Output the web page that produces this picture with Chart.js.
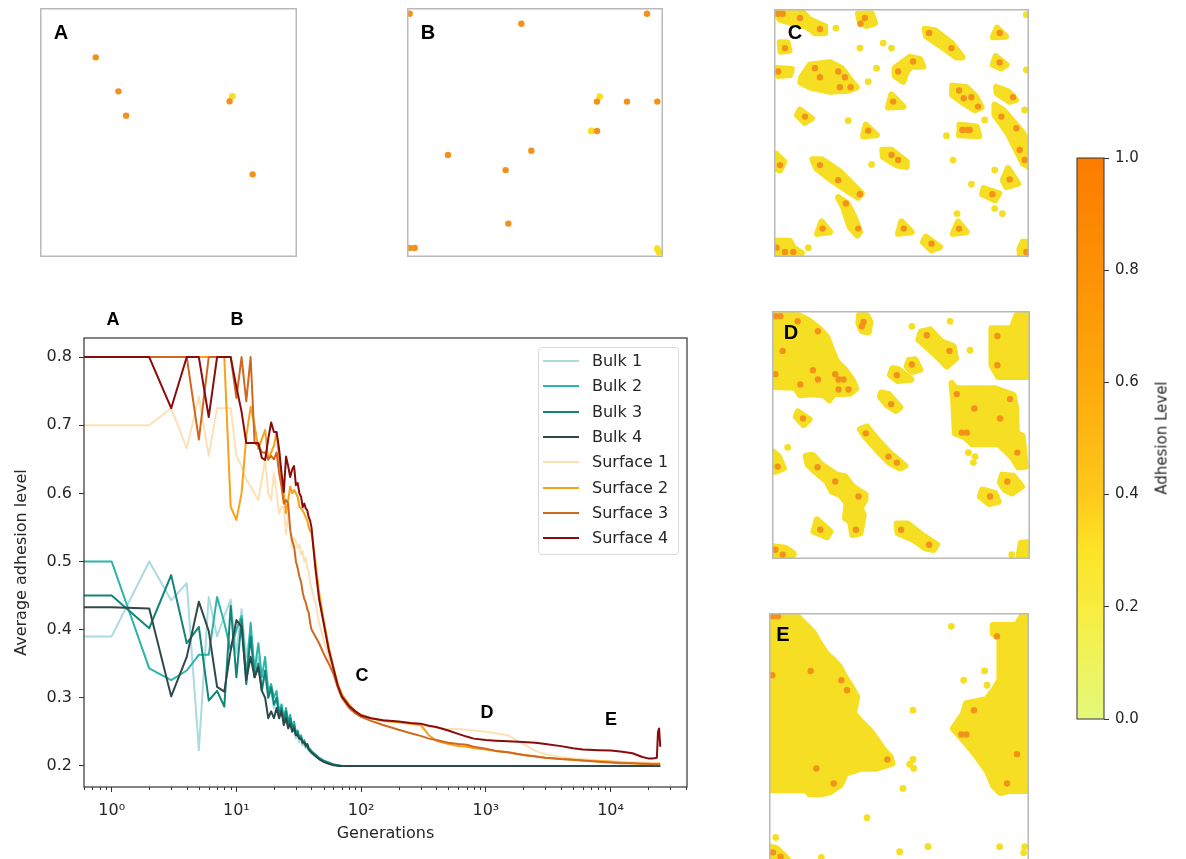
<!DOCTYPE html>
<html>
<head>
<meta charset="utf-8">
<style>
  body { margin: 0; width: 1186px; height: 859px; overflow: hidden; background: #fff; position: relative; font-family: 'DejaVu Sans', sans-serif; }
  canvas, .tag, .lbl, #legend { position: absolute; }
  .tag { font-family: 'Liberation Sans', Arial, sans-serif; font-weight: bold; color: #000; line-height: 1; transform: translate(-50%, -50%); }
  .lbl { color: #262626; line-height: 1; white-space: nowrap; }
</style>
</head>
<body>
<canvas id="panelA" width="257" height="249" style="left:40px;top:8px"></canvas>
<canvas id="panelB" width="256" height="249" style="left:407px;top:8px"></canvas>
<canvas id="panelC" width="255" height="248" style="left:774px;top:9px"></canvas>
<canvas id="panelD" width="258" height="248" style="left:772px;top:311px"></canvas>
<canvas id="panelE" width="260" height="260" style="left:769px;top:613px"></canvas>
<canvas id="cbar" width="116" height="600" style="left:1070px;top:140px"></canvas>
<canvas id="main" width="700" height="559" style="left:0;top:300px"></canvas>
<div id="legend" style="left:538px;top:347px;width:139px;height:206px;border:1px solid #d9d9d9;border-radius:4px;background:rgba(255,255,255,0.8)"></div>

<div class="tag" style="left:61px;top:32px;font-size:20px">A</div>
<div class="tag" style="left:428px;top:32px;font-size:20px">B</div>
<div class="tag" style="left:795px;top:32px;font-size:20px">C</div>
<div class="tag" style="left:791px;top:332px;font-size:20px">D</div>
<div class="tag" style="left:783px;top:634px;font-size:20px">E</div>

<div class="tag" style="left:113px;top:319px;font-size:18px">A</div>
<div class="tag" style="left:237px;top:319px;font-size:18px">B</div>
<div class="tag" style="left:362px;top:675px;font-size:18px">C</div>
<div class="tag" style="left:487px;top:712px;font-size:18px">D</div>
<div class="tag" style="left:611px;top:719px;font-size:18px">E</div>

<div class="lbl" style="left:1162px;top:438px;font-size:15px;transform:translate(-50%,-50%) rotate(-90deg)">Adhesion Level</div>

<script src="https://cdn.jsdelivr.net/npm/chart.js"></script>
<script>
// ---- main chart data: generation and average adhesion level per run ----
// first entry stands in for generation 0 (drawn at the left edge of the log axis)
const gens = [
  0.6,
  1, 2, 3, 4, 5, 6, 7, 8, 9, 10,
  11, 12, 13, 14, 15, 16, 17, 18, 19, 20,
  21, 22, 23, 24, 25, 26, 27, 28, 29, 30,
  31, 32, 33, 34, 35, 36, 37, 38, 39, 40,
  43, 46, 50, 55, 60, 65, 70, 80, 90, 100,
  120, 150, 200, 250, 300, 350, 400, 500, 600, 700,
  800, 1000, 1200, 1500, 2000, 2500, 3000, 4000, 5000, 6000,
  8000, 10000, 12000, 15000, 18000, 20000, 22000, 23500, 24000, 24500,
  25000
];
const bulk1 = [
  0.39,
  0.39, 0.50, 0.443, 0.468, 0.223, 0.448, 0.39, 0.42, 0.444, 0.365,
  0.43, 0.36, 0.40, 0.33, 0.36, 0.32, 0.33, 0.30, 0.31, 0.285,
  0.30, 0.27, 0.29, 0.26, 0.275, 0.258, 0.27, 0.25, 0.255, 0.24,
  0.245, 0.235, 0.24, 0.23, 0.232, 0.226, 0.228, 0.222, 0.22, 0.218,
  0.214, 0.21, 0.207, 0.204, 0.202, 0.201, 0.2, 0.2, 0.2, 0.2,
  0.2, 0.2, 0.2, 0.2, 0.2, 0.2, 0.2, 0.2, 0.2, 0.2,
  0.2, 0.2, 0.2, 0.2, 0.2, 0.2, 0.2, 0.2, 0.2, 0.2,
  0.2, 0.2, 0.2, 0.2, 0.2, 0.2, 0.2, 0.2, 0.2, 0.2,
  0.2
];
const bulk2 = [
  0.50,
  0.50, 0.343, 0.326, 0.34, 0.363, 0.363, 0.448, 0.41, 0.37, 0.40,
  0.42, 0.33, 0.41, 0.34, 0.38, 0.33, 0.36, 0.31, 0.32, 0.30,
  0.31, 0.28, 0.29, 0.27, 0.285, 0.265, 0.275, 0.258, 0.265, 0.25,
  0.252, 0.24, 0.245, 0.235, 0.238, 0.23, 0.232, 0.226, 0.225, 0.222,
  0.217, 0.212, 0.208, 0.205, 0.202, 0.201, 0.2, 0.2, 0.2, 0.2,
  0.2, 0.2, 0.2, 0.2, 0.2, 0.2, 0.2, 0.2, 0.2, 0.2,
  0.2, 0.2, 0.2, 0.2, 0.2, 0.2, 0.2, 0.2, 0.2, 0.2,
  0.2, 0.2, 0.2, 0.2, 0.2, 0.2, 0.2, 0.2, 0.2, 0.2,
  0.2
];
const bulk3 = [
  0.45,
  0.45, 0.402, 0.48, 0.38, 0.404, 0.296, 0.31, 0.287, 0.435, 0.33,
  0.415, 0.32, 0.39, 0.33, 0.35, 0.31, 0.34, 0.30, 0.315, 0.29,
  0.30, 0.275, 0.285, 0.265, 0.28, 0.26, 0.27, 0.255, 0.26, 0.245,
  0.25, 0.24, 0.242, 0.233, 0.235, 0.228, 0.23, 0.224, 0.222, 0.22,
  0.215, 0.211, 0.207, 0.204, 0.202, 0.201, 0.2, 0.2, 0.2, 0.2,
  0.2, 0.2, 0.2, 0.2, 0.2, 0.2, 0.2, 0.2, 0.2, 0.2,
  0.2, 0.2, 0.2, 0.2, 0.2, 0.2, 0.2, 0.2, 0.2, 0.2,
  0.2, 0.2, 0.2, 0.2, 0.2, 0.2, 0.2, 0.2, 0.2, 0.2,
  0.2
];
const bulk4 = [
  0.433,
  0.433, 0.431, 0.302, 0.36, 0.441, 0.398, 0.316, 0.309, 0.37, 0.414,
  0.404, 0.326, 0.36, 0.33, 0.345, 0.31, 0.30, 0.27, 0.28, 0.27,
  0.285, 0.27, 0.28, 0.26, 0.27, 0.255, 0.262, 0.25, 0.255, 0.245,
  0.245, 0.24, 0.24, 0.235, 0.235, 0.23, 0.232, 0.225, 0.222, 0.22,
  0.215, 0.21, 0.206, 0.203, 0.201, 0.2, 0.2, 0.2, 0.2, 0.2,
  0.2, 0.2, 0.2, 0.2, 0.2, 0.2, 0.2, 0.2, 0.2, 0.2,
  0.2, 0.2, 0.2, 0.2, 0.2, 0.2, 0.2, 0.2, 0.2, 0.2,
  0.2, 0.2, 0.2, 0.2, 0.2, 0.2, 0.2, 0.2, 0.2, 0.2,
  0.2
];
const surface1 = [
  0.70,
  0.70, 0.70, 0.725, 0.666, 0.742, 0.655, 0.725, 0.725, 0.725, 0.655,
  0.64, 0.62, 0.61, 0.60, 0.59, 0.62, 0.649, 0.60, 0.59, 0.63,
  0.60, 0.57, 0.58, 0.58, 0.54, 0.57, 0.55, 0.52, 0.535, 0.53,
  0.52, 0.525, 0.51, 0.515, 0.50, 0.505, 0.49, 0.485, 0.47, 0.46,
  0.44, 0.41, 0.385, 0.36, 0.34, 0.32, 0.305, 0.29, 0.28, 0.275,
  0.27, 0.267, 0.264, 0.262, 0.26, 0.258, 0.256, 0.254, 0.254, 0.253,
  0.252, 0.25, 0.248, 0.245, 0.232, 0.222, 0.217, 0.213, 0.211, 0.21,
  0.208, 0.207, 0.206, 0.205, 0.205, 0.204, 0.204, 0.204, 0.204, 0.204,
  0.204
];
const surface2 = [
  0.80,
  0.80, 0.80, 0.80, 0.80, 0.80, 0.80, 0.80, 0.80, 0.58, 0.561,
  0.60, 0.683, 0.727, 0.70, 0.665, 0.68, 0.693, 0.649, 0.66, 0.67,
  0.69, 0.65, 0.62, 0.60, 0.571, 0.59, 0.61, 0.60, 0.605, 0.60,
  0.595, 0.58, 0.578, 0.575, 0.57, 0.565, 0.56, 0.55, 0.545, 0.542,
  0.50, 0.455, 0.415, 0.375, 0.345, 0.32, 0.305, 0.29, 0.28, 0.275,
  0.27, 0.266, 0.264, 0.262, 0.26, 0.245, 0.237, 0.232, 0.229, 0.228,
  0.226, 0.224, 0.222, 0.22, 0.216, 0.214, 0.212, 0.21, 0.209, 0.208,
  0.207, 0.206, 0.205, 0.204, 0.203, 0.203, 0.203, 0.203, 0.203, 0.203,
  0.203
];
const surface3 = [
  0.80,
  0.80, 0.80, 0.80, 0.80, 0.679, 0.80, 0.80, 0.80, 0.80, 0.74,
  0.80, 0.735, 0.80, 0.674, 0.67, 0.66, 0.66, 0.65, 0.655, 0.65,
  0.66, 0.63, 0.61, 0.585, 0.59, 0.585, 0.546, 0.53, 0.522, 0.50,
  0.49, 0.478, 0.47, 0.455, 0.445, 0.44, 0.43, 0.425, 0.41, 0.40,
  0.39, 0.38, 0.365, 0.35, 0.335, 0.315, 0.30, 0.285, 0.277, 0.272,
  0.266, 0.26, 0.253, 0.248, 0.244, 0.24, 0.238, 0.234, 0.232, 0.231,
  0.228, 0.225, 0.222, 0.22, 0.216, 0.2136, 0.212, 0.21, 0.209, 0.208,
  0.206, 0.205, 0.204, 0.204, 0.203, 0.203, 0.2025, 0.2025, 0.2025, 0.2025,
  0.2025
];
const surface4 = [
  0.80,
  0.80, 0.80, 0.725, 0.80, 0.80, 0.712, 0.80, 0.80, 0.80, 0.756,
  0.72, 0.674, 0.674, 0.674, 0.674, 0.652, 0.649, 0.68, 0.704, 0.69,
  0.69, 0.665, 0.63, 0.602, 0.654, 0.64, 0.624, 0.635, 0.64, 0.612,
  0.615, 0.60, 0.595, 0.58, 0.585, 0.578, 0.575, 0.565, 0.56, 0.55,
  0.49, 0.445, 0.41, 0.37, 0.343, 0.318, 0.302, 0.288, 0.28, 0.274,
  0.27, 0.267, 0.265, 0.263, 0.262, 0.259, 0.257, 0.252, 0.247, 0.243,
  0.24, 0.238, 0.237, 0.236, 0.235, 0.234, 0.232, 0.229, 0.226, 0.224,
  0.223, 0.2225, 0.221, 0.2186, 0.213, 0.211, 0.211, 0.212, 0.25, 0.255,
  0.228
];

const seriesNames = ['Bulk 1', 'Bulk 2', 'Bulk 3', 'Bulk 4', 'Surface 1', 'Surface 2', 'Surface 3', 'Surface 4'];
const seriesValues = [bulk1, bulk2, bulk3, bulk4, surface1, surface2, surface3, surface4];
const seriesColors = ['#a9dbe0', '#2cb3aa', '#128579', '#2f4949', '#fde1b6', '#f8a11a', '#d0691f', '#8a0b0b'];

const xTickVals = [1, 10, 100, 1000, 10000];
const yTickVals = [0.2, 0.3, 0.4, 0.5, 0.6, 0.7, 0.8];
const sup = ['\u2070', '\u00b9', '\u00b2', '\u00b3', '\u2074'];

// ---- colour bar ----
const cbarTicks = [0, 0.2, 0.4, 0.6, 0.8, 1.0];
const cbarStops = [0, 0.1, 0.2, 0.3, 0.4, 0.5, 0.6, 0.8, 1.0];
const cbarColors = ['#e3f87b', '#eef45d', '#f8ec3f', '#fde328', '#fec91b', '#fdb813', '#fda90c', '#fc9105', '#fb7c00'];

// ---- snapshot panels (positions, 1/3 px units) ----
const aOrange = [[197,173],[265,275],[288,348],[598,305],[667,524]];
const aYellow = [[606,290]];

const bOrange = [[30,42],[365,72],[742,42],[592,305],[682,305],[773,305],[592,393],[145,465],[395,452],[318,510],[326,670],[30,743],[45,743]];
const bYellow = [[600,290],[575,393],[773,745],[778,755]];

const cBlobs = [
  [[48,40],[130,40],[150,60],[195,80],[195,100],[165,100],[140,80],[100,70],[60,60]],
  [[60,128],[82,128],[88,152],[62,155]],
  [[295,42],[335,42],[345,70],[320,78],[300,65]],
  [[125,232],[150,195],[210,188],[245,205],[275,245],[290,262],[265,272],[210,275],[150,262],[122,248]],
  [[50,205],[95,208],[90,225],[55,228]],
  [[450,172],[480,178],[490,200],[455,200],[440,215],[430,245],[405,228],[405,205]],
  [[495,88],[525,92],[575,130],[608,172],[590,172],[560,150],[500,110]],
  [[712,85],[738,110],[700,112]],
  [[708,170],[740,195],[725,205],[700,195]],
  [[578,258],[620,262],[648,290],[665,322],[645,330],[605,305],[578,285]],
  [[710,262],[745,275],[768,300],[750,305],[712,280]],
  [[705,315],[730,330],[765,370],[790,400],[808,440],[808,500],[790,490],[770,450],[745,400],[720,365],[705,345]],
  [[395,285],[430,320],[385,322]],
  [[318,375],[350,405],[310,408]],
  [[120,330],[155,355],[135,368],[112,345]],
  [[600,375],[650,380],[658,408],[598,405]],
  [[368,450],[395,450],[440,485],[440,500],[410,495],[370,470]],
  [[48,462],[72,485],[60,510],[45,505]],
  [[158,478],[185,478],[240,515],[270,545],[305,580],[295,592],[260,570],[215,540],[170,505]],
  [[235,592],[262,610],[282,648],[300,695],[292,705],[270,680],[250,620]],
  [[745,505],[775,550],[740,560],[730,540]],
  [[672,565],[718,580],[705,600],[668,582]],
  [[185,665],[210,695],[172,700]],
  [[425,665],[455,695],[415,700]],
  [[595,665],[620,695],[580,700]],
  [[498,710],[540,740],[515,750],[490,725]],
  [[48,722],[90,722],[100,742],[125,758],[110,770],[48,770]],
  [[790,725],[808,725],[808,770],[782,770],[780,745]]
];
const cYellow = [[228,85],[370,130],[395,145],[300,145],[325,245],[350,205],[265,362],[675,360],[795,330],[560,407],[335,493],[580,480],[635,552],[705,510],[705,625],[728,640],[592,640],[145,742],[800,45],[800,210]];
const cOrange = [[55,42],[68,42],[120,55],[180,88],[75,145],[315,55],[302,72],[165,205],[180,232],[235,215],[255,232],[240,262],[272,262],[55,215],[460,185],[415,215],[508,100],[575,145],[720,100],[720,188],[598,272],[612,295],[635,292],[655,320],[760,292],[725,350],[770,385],[780,450],[795,480],[400,305],[325,392],[135,350],[608,390],[622,390],[630,390],[395,465],[415,480],[60,495],[180,495],[235,540],[300,582],[258,610],[295,685],[750,538],[698,582],[188,685],[432,685],[598,685],[515,730],[50,742],[75,755],[100,755],[800,755]];

const dBlobs = [
  [[22,42],[95,42],[130,60],[165,88],[185,110],[200,150],[215,185],[240,210],[262,240],[272,265],[255,280],[205,282],[192,300],[175,285],[140,282],[105,285],[90,262],[22,260]],
  [[282,45],[305,45],[315,65],[310,95],[290,92],[280,68]],
  [[468,95],[495,88],[530,125],[565,138],[572,175],[545,198],[520,172],[485,140],[460,118]],
  [[432,180],[450,178],[465,208],[440,215],[425,198]],
  [[382,205],[400,208],[438,238],[398,242],[375,225]],
  [[680,85],[740,85],[755,45],[788,45],[788,230],[700,230],[680,195]],
  [[560,250],[572,265],[690,265],[745,285],[752,320],[755,400],[772,408],[782,500],[760,502],[740,470],[700,432],[622,432],[600,412],[570,400],[565,300]],
  [[348,278],[370,282],[405,322],[392,332],[365,315],[345,290]],
  [[98,335],[132,358],[115,375],[92,350]],
  [[285,388],[305,380],[335,418],[375,460],[420,498],[405,505],[372,488],[340,455],[300,410]],
  [[22,455],[40,470],[55,505],[30,515],[22,510]],
  [[122,468],[142,465],[170,495],[215,525],[240,530],[262,560],[300,585],[300,600],[285,625],[295,645],[285,700],[262,705],[255,665],[240,655],[245,610],[225,585],[200,575],[185,545],[150,515],[128,495]],
  [[155,660],[195,695],[185,712],[145,695]],
  [[395,672],[428,672],[470,705],[515,735],[505,750],[480,745],[445,720],[398,700]],
  [[712,525],[745,528],[770,560],[740,580],[720,570],[705,548]],
  [[652,570],[690,580],[700,605],[672,612],[645,590]],
  [[22,740],[60,745],[85,762],[80,775],[22,778]],
  [[768,730],[790,728],[795,778],[760,778]]
];
const dYellow = [[440,78],[555,63],[615,150],[67,442],[610,458],[630,470],[625,488],[740,765]];
const dOrange = [[30,48],[45,48],[97,63],[158,93],[52,152],[143,210],[158,238],[210,222],[220,238],[235,238],[105,253],[220,268],[250,268],[30,222],[295,65],[290,78],[485,105],[553,152],[440,193],[395,225],[697,107],[697,195],[575,282],[628,325],[705,355],[735,297],[590,398],[605,398],[757,458],[378,312],[113,355],[302,400],[370,470],[395,488],[37,500],[157,502],[210,545],[280,590],[272,690],[165,690],[408,690],[492,735],[727,545],[675,590],[30,750],[52,765]];

const eBlobs = [
  [[30,40],[105,40],[125,60],[160,95],[180,130],[200,160],[222,180],[240,200],[256,230],[276,262],[292,290],[282,340],[300,360],[330,390],[352,420],[372,450],[392,470],[398,490],[350,505],[305,505],[258,520],[242,555],[212,575],[185,582],[150,582],[140,570],[30,570]],
  [[700,75],[770,75],[790,42],[808,42],[808,572],[745,572],[722,578],[702,558],[682,512],[652,470],[620,430],[592,398],[580,385],[610,342],[620,310],[680,298],[702,270],[720,240],[720,115],[700,100]],
  [[30,740],[50,745],[75,768],[85,780],[30,780]]
];
const eYellow = [[575,78],[675,212],[612,240],[682,255],[460,330],[460,478],[450,492],[462,505],[430,565],[322,653],[48,712],[420,755],[505,740],[720,740],[795,740],[792,758],[185,772]];
const eOrange = [[40,48],[55,48],[38,225],[153,212],[245,240],[262,270],[383,478],[170,505],[222,550],[712,108],[643,330],[605,403],[620,403],[772,462],[742,550],[40,757],[63,770]];

const FONT = "'DejaVu Sans', sans-serif";
const INK = '#262626';
const CELL_YELLOW = '#f6df22';
const CELL_ORANGE = '#f3921a';

Chart.defaults.font.family = FONT;
Chart.defaults.color = INK;

const framePlugin = {
  id: 'frame',
  afterDraw(chart, args, opts) {
    const {ctx, chartArea: a} = chart;
    const h = opts.inset ? opts.width / 2 : 0;
    ctx.save();
    ctx.strokeStyle = opts.color;
    ctx.lineWidth = opts.width;
    ctx.strokeRect(a.left + h, a.top + h, a.right - a.left - 2 * h, a.bottom - a.top - 2 * h);
    ctx.restore();
  }
};

const minorTicks = {
  id: 'minorTicks',
  afterDraw(chart) {
    const x = chart.scales.x;
    const ctx = chart.ctx;
    const b = chart.chartArea.bottom;
    ctx.save();
    ctx.strokeStyle = '#333';
    ctx.lineWidth = 1;
    for (let d = -1; d <= 4; d++) {
      for (let k = 2; k <= 9; k++) {
        const v = k * Math.pow(10, d);
        if (v < x.min || v > x.max) continue;
        const px = Math.round(x.getPixelForValue(v)) + 0.5;
        ctx.beginPath();
        ctx.moveTo(px, b);
        ctx.lineTo(px, b + 3);
        ctx.stroke();
      }
    }
    ctx.restore();
  }
};

// ---- main line chart ----
const mainDatasets = seriesNames.map((name, i) => ({
  label: name,
  data: gens.map((g, j) => ({x: g, y: seriesValues[i][j]})),
  borderColor: seriesColors[i],
  backgroundColor: seriesColors[i],
  borderWidth: 2,
  pointRadius: 0,
  tension: 0,
  borderJoinStyle: 'round',
  fill: false,
  order: seriesNames.length - 1 - i
}));

new Chart(document.getElementById('main'), {
  type: 'line',
  data: {datasets: mainDatasets},
  options: {
    responsive: false,
    animation: false,
    events: [],
    layout: {autoPadding: false, padding: {top: 38, right: 13, bottom: 0, left: 0}},
    plugins: {
      legend: {display: false},
      tooltip: {enabled: false},
      frame: {color: '#333', width: 1.2}
    },
    scales: {
      x: {
        type: 'logarithmic',
        min: 0.6,
        max: 41000,
        afterBuildTicks: s => { s.ticks = xTickVals.map(v => ({value: v})); },
        afterFit: s => { s.height = 72; },
        grid: {display: true, drawOnChartArea: false, drawTicks: true, tickLength: 5, color: '#333'},
        border: {display: false},
        ticks: {
          font: {size: 16}, color: INK, padding: 9, maxRotation: 0, autoSkip: false,
          callback: v => '10' + sup[Math.round(Math.log10(v))]
        },
        title: {display: true, text: 'Generations', font: {size: 16}, color: INK, padding: {top: 0, bottom: 16}}
      },
      y: {
        type: 'linear',
        min: 0.169,
        max: 0.828,
        afterBuildTicks: s => { s.ticks = yTickVals.map(v => ({value: v})); },
        afterFit: s => { s.width = 84; },
        grid: {display: true, drawOnChartArea: false, drawTicks: true, tickLength: 5, color: '#333'},
        border: {display: false},
        ticks: {font: {size: 16}, color: INK, padding: 7, callback: v => v.toFixed(1)},
        title: {display: true, text: 'Average adhesion level', font: {size: 16}, color: INK, padding: {top: 12, bottom: 0}}
      }
    }
  },
  plugins: [framePlugin, minorTicks]
});

// legend box inside the plot
const legend = document.getElementById('legend');
seriesNames.forEach((name, i) => {
  const cy = 13 + i * 25.3;
  const line = document.createElement('div');
  line.style.cssText = `position:absolute;left:4px;top:${cy - 1}px;width:36px;height:2px;background:${seriesColors[i]}`;
  const txt = document.createElement('div');
  txt.className = 'lbl';
  txt.style.cssText = `left:53px;top:${cy}px;font-size:16px;transform:translateY(-50%)`;
  txt.textContent = name;
  legend.appendChild(line);
  legend.appendChild(txt);
});

// ---- colour bar ----
new Chart(document.getElementById('cbar'), {
  type: 'bar',
  data: {
    labels: [''],
    datasets: [{
      data: [[0, 1]],
      barPercentage: 1,
      categoryPercentage: 1,
      borderWidth: 0,
      backgroundColor: c => {
        const a = c.chart.chartArea;
        if (!a) return cbarColors[0];
        const g = c.chart.ctx.createLinearGradient(0, a.bottom, 0, a.top);
        cbarStops.forEach((s, i) => g.addColorStop(s, cbarColors[i]));
        return g;
      }
    }]
  },
  options: {
    responsive: false,
    animation: false,
    events: [],
    layout: {autoPadding: false, padding: {left: 7, top: 18, bottom: 21, right: 0}},
    plugins: {legend: {display: false}, tooltip: {enabled: false}, frame: {color: '#333', width: 1}},
    scales: {
      x: {display: false},
      y: {
        position: 'right',
        min: 0,
        max: 1,
        afterBuildTicks: s => { s.ticks = cbarTicks.map(v => ({value: v})); },
        afterFit: s => { s.width = 82; },
        grid: {display: true, drawOnChartArea: false, tickLength: 5, color: '#333'},
        border: {display: false},
        ticks: {font: {size: 15}, color: INK, padding: 6, callback: v => v.toFixed(1)}
      }
    }
  },
  plugins: [framePlugin]
});

// ---- snapshot panels ----
const toXY = pts => pts.map(p => ({x: p[0], y: p[1]}));

const drawPanel = (id, xr, yr, blobs, yellow, orange) => {
  const datasets = [
    {data: toXY(orange), showLine: false, pointRadius: 3.2, pointBorderWidth: 0, pointBackgroundColor: CELL_ORANGE, order: 0},
    {data: toXY(yellow), showLine: false, pointRadius: 3.4, pointBorderWidth: 0, pointBackgroundColor: CELL_YELLOW, order: 1}
  ];
  blobs.forEach(b => {
    datasets.push({
      data: toXY([...b, b[0]]),
      fill: 'shape',
      backgroundColor: CELL_YELLOW,
      borderColor: CELL_YELLOW,
      borderWidth: 6.5,
      borderJoinStyle: 'round',
      borderCapStyle: 'round',
      pointRadius: 0,
      tension: 0,
      order: 2
    });
  });
  new Chart(document.getElementById(id), {
    type: 'line',
    data: {datasets},
    options: {
      responsive: false,
      animation: false,
      events: [],
      layout: {autoPadding: false, padding: 0},
      plugins: {legend: {display: false}, tooltip: {enabled: false}, frame: {color: '#b9b9b9', width: 1.5, inset: true}},
      scales: {
        x: {type: 'linear', display: false, min: xr[0], max: xr[1]},
        y: {type: 'linear', display: false, min: yr[0], max: yr[1], reverse: true}
      }
    },
    plugins: [framePlugin]
  });
};

drawPanel('panelA', [30, 800], [25, 772], [], aYellow, aOrange);
drawPanel('panelB', [22, 790], [25, 770], [], bYellow, bOrange);
drawPanel('panelC', [42, 808], [28, 770], cBlobs, cYellow, cOrange);
drawPanel('panelD', [20, 795], [32, 778], dBlobs, dYellow, dOrange);
drawPanel('panelE', [28, 808], [38, 819], eBlobs, eYellow, eOrange);
</script>
</body>
</html>
